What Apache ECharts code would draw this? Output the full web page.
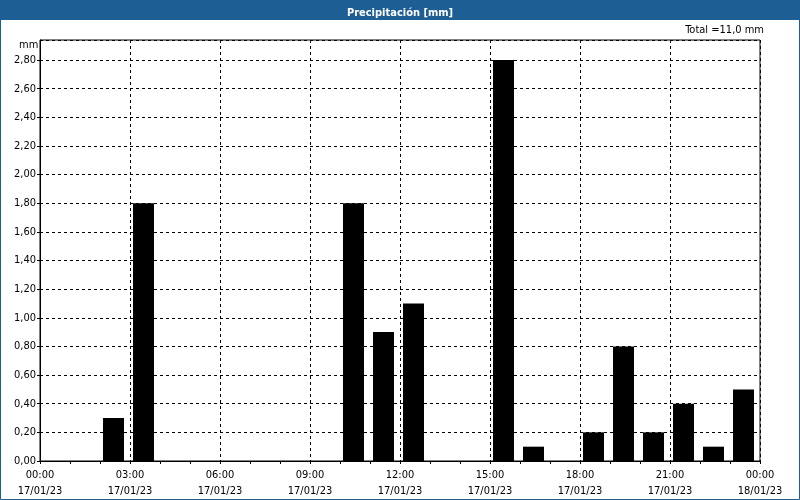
<!DOCTYPE html>
<html><head><meta charset="utf-8">
<script src="https://cdn.jsdelivr.net/npm/echarts@6/dist/echarts.min.js"></script>
<style>html,body{margin:0;padding:0;background:#fff}#c{width:800px;height:500px}</style>
</head><body><div id="c"></div>
<script>
var hourStarts = [2, 3, 10, 11, 12, 15, 16, 18, 19, 20, 21, 22, 23];
var precipMm   = [0.3, 1.8, 1.8, 0.9, 1.1, 2.8, 0.1, 0.2, 0.8, 0.2, 0.4, 0.1, 0.5];
var timeLabels = ['00:00','03:00','06:00','09:00','12:00','15:00','18:00','21:00','00:00'];
var dateLabels = ['17/01/23','17/01/23','17/01/23','17/01/23','17/01/23','17/01/23','17/01/23','17/01/23','18/01/23'];
var titleText = 'Precipitación [mm]';
var unitText = 'mm';

var total = precipMm.reduce(function(a,b){return a+b;},0);
var font = '"DejaVu Sans Condensed", "DejaVu Sans", sans-serif';
var chart = echarts.init(document.getElementById('c'), null, {renderer:'canvas'});
chart.setOption({
  animation:false,
  backgroundColor:'#fff',
  title:{text:titleText, left:'center', top:3,
    textStyle:{color:'#fff', fontSize:11, fontWeight:'bold', fontFamily:font}},
  graphic:[
    {type:'rect', z:-1, shape:{x:0,y:0,width:800,height:20}, style:{fill:'#1d5f95'}},
    {type:'rect', z:-1, shape:{x:0.5,y:0.5,width:799,height:499}, style:{fill:null, stroke:'#1d5f95', lineWidth:1}},
    {type:'text', right:36, top:25, style:{text:'Total =' + total.toFixed(1).replace('.',',') + ' mm', fill:'#000', font:'11px ' + font}},
    {type:'text', left:19, top:40, style:{text:unitText, fill:'#000', font:'11px ' + font}}
  ],
  grid:{left:40, right:40, top:40, bottom:39, show:true, borderColor:'#000', borderWidth:1, backgroundColor:'#fff'},
  xAxis:{type:'value', min:0, max:24, interval:3,
    minorTick:{show:true, splitNumber:3, length:3, lineStyle:{color:'#000'}},
    axisLine:{onZero:false, lineStyle:{color:'#000', width:1}},
    axisTick:{show:true, length:3, lineStyle:{color:'#000'}},
    splitLine:{show:true, lineStyle:{color:'#000', type:[3,3], width:1}},
    axisLabel:{color:'#000', fontSize:11, fontFamily:font, lineHeight:16, margin:6,
      showMinLabel:true, showMaxLabel:true,
      formatter:function(v){var i=Math.round(v/3); return timeLabels[i] + '\n' + dateLabels[i];}}
  },
  yAxis:{type:'value', min:0, max:2.94, interval:0.2,
    axisLine:{show:true, lineStyle:{color:'#000', width:1}},
    axisTick:{show:true, length:3, lineStyle:{color:'#000'}},
    splitLine:{show:true, lineStyle:{color:'#000', type:[3,3], width:1}},
    axisLabel:{color:'#000', fontSize:11, fontFamily:font, margin:4, showMaxLabel:false,
      formatter:function(v){return v.toFixed(2).replace('.',',');}}
  },
  series:[{type:'bar', barWidth:21, itemStyle:{color:'#000'},
    data:hourStarts.map(function(h,i){return [h+0.45, precipMm[i]];})}]
});
</script></body></html>
